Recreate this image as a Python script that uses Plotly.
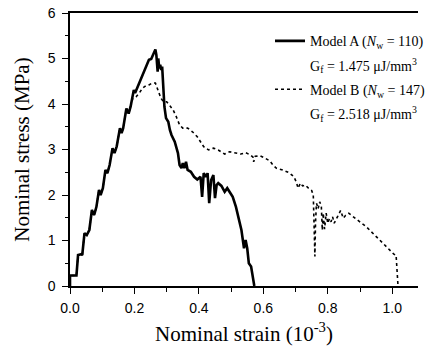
import plotly.graph_objects as go

# Model A (solid)
a_strain = [0.0, 0.0, 0.02, 0.025, 0.035, 0.038, 0.045, 0.052, 0.06, 0.068, 0.075, 0.082,
            0.09, 0.095, 0.102, 0.11, 0.116, 0.123, 0.132, 0.138, 0.145, 0.155, 0.16, 0.165,
            0.175, 0.182, 0.188, 0.198, 0.202, 0.21, 0.22, 0.227, 0.235, 0.245, 0.252, 0.26,
            0.265, 0.268, 0.27, 0.272, 0.274, 0.277, 0.28, 0.283, 0.286, 0.29, 0.293, 0.298,
            0.305, 0.31, 0.315, 0.325, 0.33, 0.335, 0.34, 0.346, 0.35, 0.355, 0.36, 0.365,
            0.375, 0.385, 0.395, 0.405, 0.41, 0.415, 0.422, 0.427, 0.432, 0.438, 0.445, 0.45,
            0.455, 0.46, 0.47, 0.48, 0.488, 0.495, 0.505, 0.515, 0.525, 0.532, 0.54, 0.545,
            0.55, 0.555, 0.562, 0.568, 0.572]
a_stress = [0.0, 0.23, 0.23, 0.68, 0.7, 0.68, 1.16, 1.12, 1.23, 1.67, 1.56, 1.74,
            2.11, 2.0, 2.15, 2.55, 2.48, 2.66, 3.03, 2.92, 3.07, 3.47, 3.36, 3.47,
            3.9, 3.79, 3.94, 4.31, 4.24, 4.38, 4.57, 4.68, 4.79, 4.97, 4.99, 5.12,
            5.2, 5.08, 4.9, 4.71, 5.0, 4.78, 4.86, 4.75, 4.82, 4.38, 3.94, 3.69,
            3.61, 3.43, 3.32, 3.17, 3.06, 2.92, 2.66, 2.59, 2.7, 2.59, 2.73, 2.55,
            2.51, 2.4, 2.34, 2.4, 1.96, 2.48, 2.4, 2.48, 1.82, 2.33, 2.44, 1.93,
            2.22, 2.26, 2.2, 2.07, 2.15, 2.08, 1.96, 1.74, 1.45, 1.23, 0.83, 1.01,
            0.83, 0.5, 0.43, 0.17, 0.0]

# Model B (dotted) - its pre-peak branch lies under Model A's curve
b_strain = [0.0, 0.0, 0.02, 0.025, 0.035, 0.038, 0.045, 0.052, 0.06, 0.068, 0.075, 0.082,
            0.09, 0.095, 0.102, 0.11, 0.116, 0.123, 0.132, 0.138, 0.145, 0.155, 0.16, 0.165,
            0.175, 0.182, 0.188, 0.195, 0.205, 0.215, 0.225, 0.235, 0.245, 0.255,
            0.265, 0.27, 0.275, 0.282, 0.29, 0.3, 0.31, 0.32, 0.33, 0.34, 0.35, 0.365,
            0.38, 0.395, 0.405, 0.415, 0.43, 0.445, 0.46, 0.48, 0.495, 0.515, 0.53, 0.545,
            0.56, 0.568, 0.57, 0.575, 0.59, 0.605, 0.62, 0.63, 0.64, 0.66, 0.68, 0.695,
            0.702, 0.708, 0.715, 0.722, 0.73, 0.74, 0.75, 0.755, 0.758, 0.76, 0.762, 0.765,
            0.77, 0.775, 0.78, 0.783, 0.786, 0.79, 0.795, 0.8, 0.805, 0.81, 0.815, 0.82,
            0.83, 0.84, 0.848, 0.855, 0.865, 0.875, 0.89, 0.905, 0.92, 0.935, 0.95, 0.97,
            0.99, 1.005, 1.012, 1.015, 1.018]
b_stress = [0.0, 0.23, 0.23, 0.68, 0.7, 0.68, 1.16, 1.12, 1.23, 1.67, 1.56, 1.74,
            2.11, 2.0, 2.15, 2.55, 2.48, 2.66, 3.03, 2.92, 3.07, 3.47, 3.36, 3.47,
            3.9, 3.79, 3.94, 4.13, 4.16, 4.24, 4.35, 4.4, 4.42, 4.46,
            4.46, 4.37, 4.24, 4.13, 4.05, 4.05, 3.96, 3.87, 3.72, 3.54, 3.47, 3.47,
            3.39, 3.28, 3.17, 3.06, 2.99, 3.03, 2.99, 2.9, 2.95, 2.92, 2.9, 2.93,
            2.88, 2.83, 2.73, 2.85, 2.86, 2.81, 2.75, 2.66, 2.59, 2.55, 2.49, 2.4,
            2.29, 2.15, 2.26, 2.2, 2.22, 2.15, 2.1, 2.0, 1.3, 0.65, 1.4, 1.82,
            1.7, 1.85, 1.75, 1.23, 1.6, 1.25, 1.6, 1.38, 1.48, 1.41, 1.52, 1.38,
            1.52, 1.66, 1.49, 1.55, 1.6, 1.54, 1.45, 1.38, 1.3, 1.19, 1.09, 0.94,
            0.79, 0.7, 0.68, 0.43, 0.0]

name_a = "Model A (<i>N</i><sub>w</sub> = 110)"
gf_a = "G<sub>f</sub> = 1.475 μJ/mm<sup>3</sup>"
name_b = "Model B (<i>N</i><sub>w</sub> = 147)"
gf_b = "G<sub>f</sub> = 2.518 μJ/mm<sup>3</sup>"

fig = go.Figure()
fig.add_trace(go.Scatter(x=b_strain, y=b_stress, mode="lines", name=name_b,
                         legendrank=3, legendgroup="g3",
                         line=dict(color="black", width=1.6, dash="dot")))
fig.add_trace(go.Scatter(x=a_strain, y=a_stress, mode="lines", name=name_a,
                         legendrank=1, legendgroup="g1",
                         line=dict(color="black", width=2.6)))
fig.add_trace(go.Scatter(x=[None], y=[None], mode="lines", name=gf_a,
                         legendrank=2, legendgroup="g2",
                         line=dict(color="rgba(0,0,0,0)", width=1)))
fig.add_trace(go.Scatter(x=[None], y=[None], mode="lines", name=gf_b,
                         legendrank=4, legendgroup="g4",
                         line=dict(color="rgba(0,0,0,0)", width=1)))

fig.update_layout(
    width=430, height=346,
    margin=dict(l=70, r=0, t=13, b=60),
    plot_bgcolor="white", paper_bgcolor="white",
    showlegend=True,
    legend=dict(x=0.575, y=0.955, xanchor="left", yanchor="top",
                bgcolor="rgba(0,0,0,0)", traceorder="grouped",
                font=dict(family="Liberation Serif", size=14, color="black"),
                tracegroupgap=3),
    xaxis=dict(range=[0, 1.08], dtick=0.2, tick0=0, tickformat=".1f",
               showline=True, linecolor="black", linewidth=1.5, mirror=True,
               ticks="outside", ticklen=6, tickwidth=1.2, tickcolor="black",
               ticklabelstandoff=2,
               minor=dict(dtick=0.1, ticks="outside", ticklen=4, tickcolor="black", tickwidth=1),
               showgrid=False, zeroline=False,
               tickfont=dict(family="Liberation Sans", size=14, color="black"),
               title=dict(text="Nominal strain (10<sup>-3</sup>)",
                          font=dict(family="Liberation Serif", size=21, color="black"),
                          standoff=13)),
    yaxis=dict(range=[0, 6], dtick=1, tick0=0,
               showline=True, linecolor="black", linewidth=1.5,
               ticks="outside", ticklen=6, tickwidth=1.2, tickcolor="black",
               ticklabelstandoff=4,
               minor=dict(dtick=0.5, ticks="outside", ticklen=3, tickcolor="black", tickwidth=1),
               showgrid=False, zeroline=False,
               tickfont=dict(family="Liberation Sans", size=14, color="black"),
               title=dict(text="Nominal stress (MPa)",
                          font=dict(family="Liberation Serif", size=21, color="black"),
                          standoff=12)),
)

fig.write_html("out.html")
